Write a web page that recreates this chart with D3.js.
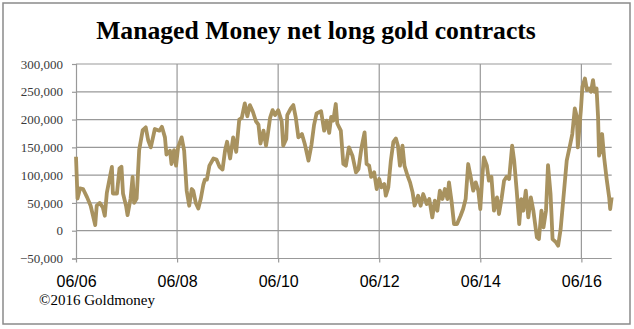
<!DOCTYPE html>
<html><head><meta charset="utf-8">
<script src="https://cdn.jsdelivr.net/npm/d3@7"></script>
<style>html,body{margin:0;padding:0;background:#fff;}svg{display:block;}</style>
</head><body>
<svg id="c" width="634" height="329"></svg>
<script>
const times = [2006.45,2006.48,2006.53,2006.59,2006.67,2006.74,2006.83,2006.86,2006.92,2006.98,2007.02,2007.06,2007.16,2007.18,2007.26,2007.31,2007.35,2007.38,2007.44,2007.47,2007.53,2007.57,2007.60,2007.65,2007.70,2007.77,2007.83,2007.88,2007.93,2008.01,2008.10,2008.15,2008.21,2008.24,2008.31,2008.34,2008.39,2008.43,2008.47,2008.54,2008.59,2008.64,2008.69,2008.74,2008.77,2008.82,2008.87,2008.92,2008.97,2009.00,2009.04,2009.09,2009.17,2009.23,2009.29,2009.35,2009.40,2009.44,2009.50,2009.56,2009.62,2009.68,2009.73,2009.79,2009.84,2009.89,2009.95,2010.01,2010.06,2010.10,2010.16,2010.21,2010.24,2010.29,2010.34,2010.39,2010.45,2010.52,2010.55,2010.61,2010.63,2010.70,2010.75,2010.80,2010.85,2010.92,2010.98,2011.05,2011.11,2011.16,2011.21,2011.30,2011.36,2011.41,2011.46,2011.50,2011.54,2011.59,2011.62,2011.69,2011.74,2011.79,2011.85,2011.92,2011.99,2012.04,2012.10,2012.16,2012.20,2012.25,2012.29,2012.35,2012.40,2012.45,2012.49,2012.55,2012.58,2012.63,2012.68,2012.73,2012.78,2012.82,2012.86,2012.91,2012.95,2013.01,2013.06,2013.11,2013.15,2013.22,2013.27,2013.32,2013.39,2013.44,2013.50,2013.55,2013.60,2013.65,2013.70,2013.75,2013.80,2013.83,2013.88,2013.93,2013.99,2014.06,2014.11,2014.16,2014.21,2014.26,2014.31,2014.36,2014.41,2014.45,2014.49,2014.52,2014.58,2014.62,2014.67,2014.72,2014.78,2014.82,2014.87,2014.92,2014.97,2015.02,2015.08,2015.12,2015.17,2015.22,2015.26,2015.30,2015.35,2015.40,2015.45,2015.50,2015.57,2015.61,2015.66,2015.70,2015.75,2015.79,2015.84,2015.88,2015.94,2015.99,2016.04,2016.09,2016.16,2016.23,2016.27,2016.32,2016.36,2016.38,2016.44,2016.47,2016.52,2016.56,2016.60,2016.64,2016.68,2016.71,2016.75,2016.78,2016.80,2016.83,2016.86,2016.90,2016.95,2017.00,2017.02,2017.05];
const netLong = [133,58,76,75,60,45,10,45,50,42,27,68,115,67,67,112,115,67,45,28,58,97,50,58,145,181,186,162,150,183,180,187,168,137,144,120,145,117,150,168,144,72,45,75,72,50,40,58,83,92,92,117,130,128,115,110,145,160,130,168,142,200,203,229,206,226,214,197,191,157,180,153,170,203,217,208,217,197,153,165,208,220,226,203,168,174,155,126,155,190,211,215,180,198,176,205,198,228,193,180,120,117,150,135,105,111,150,177,120,117,97,105,75,93,78,84,63,78,126,160,166,153,117,153,117,99,87,69,45,63,45,66,48,57,24,54,36,72,57,75,57,87,54,12,12,27,39,57,120,97,72,87,72,39,97,132,117,90,97,36,60,30,57,90,97,93,153,126,72,12,57,36,72,24,60,36,-12,-15,36,6,36,118,66,-15,-20,-27,3,54,126,156,174,220,205,150,217,259,274,253,256,250,271,250,256,205,135,144,174,132,93,60,39,60].map(v => v * 1000);
const yTicks = [-50000,0,50000,100000,150000,200000,250000,300000];
const xTickTimes = [2006.45,2008.45,2010.45,2012.45,2014.45,2016.45];
const xTickLabels = ["06/06","06/08","06/10","06/12","06/14","06/16"];
const title = "Managed Money net long gold contracts";
const credit = "\u00A92016 Goldmoney";

const svg = d3.select("#c");
const m = {left:76, right:611.7, top:64, bottom:258.5};
const x = d3.scaleLinear().domain([2006.45, 2017.05]).range([m.left, m.right]);
const y = d3.scaleLinear().domain([-50000, 300000]).range([m.bottom, m.top]);

svg.append("rect").attr("x",3).attr("y",3).attr("width",627).attr("height",321)
  .attr("fill","#fff").attr("stroke","#8a8a8a").attr("stroke-width",1.5);

const gridColor = "#999";
svg.append("g").selectAll("line").data(yTicks.filter(d=>d>-50000)).join("line")
  .attr("x1",m.left).attr("x2",m.right).attr("y1",d=>y(d)).attr("y2",d=>y(d))
  .attr("stroke",gridColor).attr("stroke-width",1.2);
svg.append("g").selectAll("line").data(xTickTimes.slice(1)).join("line")
  .attr("x1",d=>x(d)).attr("x2",d=>x(d)).attr("y1",m.top).attr("y2",m.bottom)
  .attr("stroke",gridColor).attr("stroke-width",1.2);

const yAxis = svg.append("g").attr("transform",`translate(${m.left},0)`)
  .call(d3.axisLeft(y).tickValues(yTicks).tickSize(4).tickPadding(9).tickFormat(d3.format(",")));
yAxis.select(".domain").attr("stroke",gridColor).attr("stroke-width",1.2);
yAxis.selectAll(".tick line").attr("stroke",gridColor).attr("stroke-width",1.2);
yAxis.selectAll("text").attr("font-family","'Liberation Serif','Times New Roman',serif")
  .attr("font-size",13).attr("fill","#3a3a3a");

const xAxis = svg.append("g").attr("transform",`translate(0,${m.bottom})`)
  .call(d3.axisBottom(x).tickValues(xTickTimes).tickSize(4).tickPadding(13)
    .tickFormat((d,i)=>xTickLabels[i]));
xAxis.select(".domain").attr("stroke",gridColor).attr("stroke-width",1.2).attr("d",`M${m.left},0H${m.right}`);
xAxis.selectAll(".tick line").attr("stroke",gridColor).attr("stroke-width",1.2);
xAxis.selectAll("text").attr("font-family","'Liberation Sans',Arial,sans-serif")
  .attr("font-size",16).attr("fill","#000");

const line = d3.line().x((d,i)=>x(times[i])).y(d=>y(d)).curve(d3.curveLinear);
svg.append("path").datum(netLong).attr("d",line).attr("fill","none")
  .attr("stroke","#a8925f").attr("stroke-width",3.8).attr("stroke-linejoin","round");

const t = svg.append("text").attr("x",316).attr("y",39).attr("text-anchor","middle")
  .attr("font-family","'Liberation Serif','Times New Roman',serif").attr("font-weight","bold")
  .attr("font-size",25).attr("fill","#000").text(title);
const w = t.node().getComputedTextLength();
t.attr("font-size", 25*440/w);

svg.append("text").attr("x",39).attr("y",305)
  .attr("font-family","'Liberation Serif','Times New Roman',serif")
  .attr("font-size",15).attr("fill","#000").text(credit);
</script>
</body></html>
